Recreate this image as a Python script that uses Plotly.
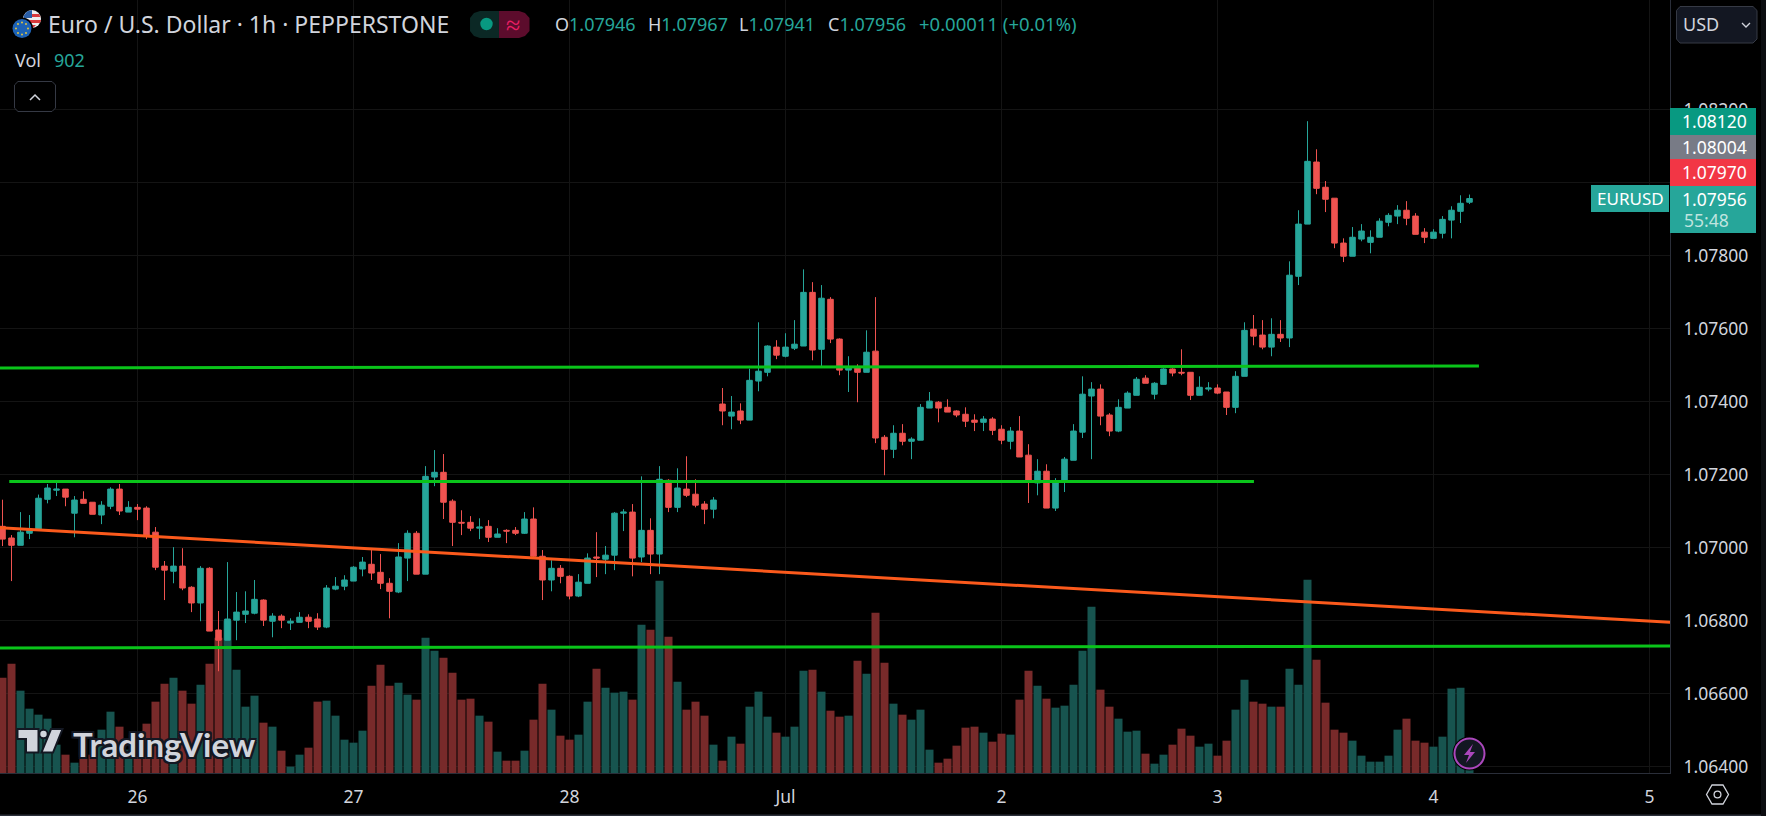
import plotly.graph_objects as go

# prices in points (1 point = 0.00001)
OPEN = [107058,107026,107006,107039,107047,107132,107157,107160,107094,107132,
107124,107089,107113,107160,107097,107110,107108,107042,106949,106935,
106949,106891,106848,106943,106774,106746,106801,106817,106820,106856,
106798,106812,106793,106795,106809,106804,106782,106886,106894,106908,
106941,106954,106932,106902,106878,106971,107039,106927,107193,107206,
107127,107069,107069,107053,107058,107028,107047,107047,107039,107078,
106976,106911,106943,106921,106867,106902,106974,106968,106979,107094,
107097,106974,107047,106982,107184,107110,107160,107146,107119,107105,
107393,107360,107374,107349,107456,107480,107549,107524,107546,107552,
107699,107543,107680,107571,107486,107494,107480,107538,107302,107269,
107313,107291,107294,107382,107398,107384,107374,107365,107349,107343,
107352,107324,107291,107319,107253,107177,107209,107108,107180,107239,
107316,107415,107434,107363,107319,107382,107417,107464,107420,107447,
107489,107480,107480,107417,107434,107437,107426,107384,107469,107598,
107582,107549,107584,107574,107743,107886,108056,107987,107957,107834,
107798,107845,107836,107850,107891,107908,107924,107908,107864,107847,
107861,107897,107921,107946]
HIGH = [107131,107034,107097,107089,107145,107174,107177,107160,107141,107154,
107124,107127,107165,107174,107127,107119,107113,107056,106963,107001,
106998,106894,106949,106946,106826,106960,106878,106880,106911,106858,
106820,106817,106806,106823,106817,106820,106897,106919,106924,106949,
106974,106993,106982,106916,107012,107047,107045,107223,107267,107256,
107132,107102,107086,107080,107075,107053,107050,107056,107097,107110,
106993,106965,106952,106924,106927,106984,107042,107004,107097,107105,
107119,107195,107080,107223,107187,107217,107250,107187,107127,107138,
107437,107415,107395,107490,107617,107554,107568,107587,107623,107762,
107727,107719,107686,107573,107524,107502,107595,107686,107308,107335,
107338,107302,107393,107426,107401,107406,107376,107384,107365,107360,
107357,107335,107330,107360,107283,107242,107228,107190,107248,107338,
107469,107453,107447,107368,107406,107428,107467,107472,107453,107491,
107491,107543,107480,107469,107453,107447,107426,107483,107617,107637,
107623,107628,107623,107784,107924,108168,108091,108004,107957,107847,
107878,107886,107869,107902,107916,107938,107949,107916,107875,107872,
107908,107935,107965,107967]
LOW = [107004,106908,107006,107023,107047,107121,107141,107113,107028,107121,
107091,107064,107105,107089,107097,107075,107023,106938,106856,106902,
106883,106823,106798,106771,106661,106746,106746,106793,106817,106785,
106754,106779,106774,106795,106779,106774,106779,106883,106883,106908,
106921,106911,106886,106806,106875,106908,106927,106927,107168,107078,
107004,107034,107045,107023,107015,107028,107012,107034,107037,106974,
106856,106880,106902,106858,106864,106902,106919,106927,106938,107045,
106921,106960,106927,106927,107097,107097,107138,107110,107064,107080,
107335,107324,107338,107349,107428,107469,107516,107521,107541,107552,
107513,107497,107560,107472,107426,107398,107480,107286,107198,107245,
107280,107242,107294,107382,107343,107371,107357,107330,107319,107319,
107308,107283,107269,107248,107122,107143,107108,107100,107152,107239,
107300,107242,107335,107305,107316,107382,107417,107450,107406,107447,
107469,107472,107404,107417,107428,107420,107363,107368,107469,107554,
107543,107524,107563,107549,107719,107886,107968,107919,107820,107782,
107798,107839,107806,107850,107880,107886,107883,107858,107834,107847,
107847,107847,107889,107941]
CLOSE = [107023,107006,107042,107047,107135,107163,107160,107138,107130,107121,
107091,107116,107160,107100,107110,107105,107031,106946,106938,106949,
106889,106848,106943,106771,106746,106804,106823,106826,106858,106801,
106812,106801,106798,106809,106798,106782,106889,106894,106911,106946,
106960,106930,106902,106880,106974,107039,106927,107195,107206,107124,
107069,107067,107053,107056,107028,107037,107045,107039,107078,106976,
106911,106943,106921,106867,106905,106971,106971,106979,107094,107097,
106971,107047,106982,107187,107110,107163,107143,107116,107105,107130,
107374,107371,107349,107458,107483,107552,107527,107549,107557,107699,
107541,107683,107571,107486,107492,107480,107535,107300,107269,107313,
107291,107297,107384,107401,107382,107371,107363,107346,107343,107352,
107321,107294,107319,107248,107182,107209,107108,107179,107242,107319,
107420,107434,107360,107319,107384,107423,107461,107450,107450,107489,
107478,107478,107417,107439,107437,107423,107384,107469,107595,107579,
107549,107584,107574,107746,107886,108058,107984,107954,107834,107798,
107850,107867,107850,107894,107910,107924,107902,107858,107850,107864,
107899,107924,107943,107956]
VOLUME = [28600,32800,24700,19300,17500,16300,8500,5500,3100,4300,
5500,13000,18400,13900,7000,8500,14800,21400,26800,28600,
24700,20800,26500,32800,40600,45700,31000,19900,23200,15100,
13900,6700,1900,5500,7600,21400,21700,17200,10000,9100,
12700,26200,32500,26200,27100,23500,22000,40600,36700,34600,
30100,22000,22300,17200,15400,6400,3700,3700,6700,16000,
26800,19000,11200,10000,11500,21400,31300,25600,24100,24400,
22000,44500,43000,57700,40900,27400,19000,21400,17200,8500,
3700,10900,8800,19900,24400,16900,12100,10900,13900,30700,
31000,24400,18700,16900,17200,33700,29800,48100,33100,20800,
17500,16000,19000,7000,3100,4300,8200,13600,13900,12100,
9400,11800,11500,22000,30700,26200,22300,19600,20200,26500,
36700,49900,25000,19900,16300,12400,12700,5800,2800,5500,
8500,13300,11200,7900,8800,5200,9700,19000,28000,21400,
20800,19900,19900,31300,26500,58000,34000,21100,13000,12100,
9700,5200,3400,3400,5200,13000,16300,9700,9100,7900,
10900,25300,25600,902]

PRICE_TICKS = [1.064, 1.066, 1.068, 1.070, 1.072, 1.074, 1.076, 1.078, 1.080, 1.082]
DATE_TICK_BARS = [15, 39, 63, 87, 111, 135, 159, 183]
DATE_TICK_LABELS = ["26", "27", "28", "Jul", "2", "3", "4", "5"]

RES_UPPER_X = [-0.28, 164.05]
RES_UPPER_Y = [1.07492, 1.07497]
RES_MID_X = [0.75, 139.05]
RES_MID_Y = [1.07181, 1.07181]
SUPPORT_X = [-0.28, 185.28]
SUPPORT_Y = [1.06725, 1.06730]
TREND_X = [-0.28, 185.28]
TREND_Y = [1.07054, 1.06795]

LAST_LABELS = [("1.08120", "#089981", 108, 135), ("1.08004", "#787b86", 135, 159),
               ("1.07970", "#f23645", 159, 186)]

UP = "#26a69a"; DOWN = "#ef5350"
UP_V = "#17544f"; DOWN_V = "#782a2a"
TXT = "#d1d4dc"
GRID = "#141414"
FONT = "Noto Sans"
PW, PH = 1670, 773

def X(p): return p / PW
def Y(p): return 1 - p / PH

bars = list(range(len(OPEN)))
fig = go.Figure()
fig.add_trace(go.Bar(x=bars, y=VOLUME, yaxis="y", xaxis="x",
    marker=dict(color=[UP_V if c >= o else DOWN_V for o, c in zip(OPEN, CLOSE)], line_width=0),
    hoverinfo="skip", showlegend=False))
fig.add_trace(go.Candlestick(x=bars, yaxis="y2",
    open=[v / 1e5 for v in OPEN], high=[v / 1e5 for v in HIGH],
    low=[v / 1e5 for v in LOW], close=[v / 1e5 for v in CLOSE],
    increasing=dict(line=dict(color=UP, width=1), fillcolor=UP),
    decreasing=dict(line=dict(color=DOWN, width=1), fillcolor=DOWN),
    whiskerwidth=0, hoverinfo="skip", showlegend=False))
for xs, ys, col in [(RES_UPPER_X, RES_UPPER_Y, "#0ac41a"), (RES_MID_X, RES_MID_Y, "#0ac41a"),
                    (SUPPORT_X, SUPPORT_Y, "#0ac41a"), (TREND_X, TREND_Y, "#fb5a1c")]:
    fig.add_trace(go.Scatter(x=xs, y=ys, yaxis="y2", mode="lines",
        line=dict(color=col, width=3), hoverinfo="skip", showlegend=False))

shapes, ann = [], []

def rect(x0, y0, x1, y1, fill, line=None, lw=1):
    shapes.append(dict(type="rect", xref="paper", yref="paper", x0=X(x0), x1=X(x1), y0=Y(y0), y1=Y(y1),
        fillcolor=fill, line=dict(color=line or fill, width=lw if line else 0), layer="above"))

def poly(points, fill=None, line=None, lw=1, close=True):
    d = "M" + " L".join(f"{X(a):.5f},{Y(b):.5f}" for a, b in points) + (" Z" if close else "")
    shapes.append(dict(type="path", xref="paper", yref="paper", path=d,
        fillcolor=fill or "rgba(0,0,0,0)", line=dict(color=line or "rgba(0,0,0,0)", width=lw), layer="above"))

def circ(cx, cy, r, fill, line=None, lw=1):
    shapes.append(dict(type="circle", xref="paper", yref="paper", x0=X(cx - r), x1=X(cx + r),
        y0=Y(cy - r), y1=Y(cy + r), fillcolor=fill,
        line=dict(color=line or fill, width=lw if line else 0), layer="above"))

def text(x, y, s, size=16, color=TXT, anchor="left", family=FONT, **kw):
    ann.append(dict(xref="paper", yref="paper", x=X(x), y=Y(y), text=s, showarrow=False,
        xanchor=anchor, yanchor="middle", align=anchor, xshift=0, yshift=0,
        font=dict(size=size, color=color, family=family, **kw)))

# outer chrome
rect(0, 814.5, 1766, 816, "#2a2e39")
rect(1761, 0, 1766, 816, "#0c0d10")

# flags
circ(32, 19, 9, "#eeeeee")
poly([(25, 14), (39, 14), (40.5, 17), (24, 17)], "#d8393c")
poly([(24, 20), (41, 20), (40, 23), (25, 23)], "#d8393c")
poly([(28, 25), (36, 25), (33, 28), (31, 28)], "#d8393c")
poly([(23.5, 16), (27, 11.5), (32, 10), (32, 18), (24, 18)], "#2a5fa8")
circ(22, 28.5, 11, "#000000")
circ(22, 28.5, 9.5, "#1d62b5")
for dx, dy in [(0, -6), (4, -4.5), (6, 0), (4, 4.5), (0, 6), (-4, 4.5), (-6, 0), (-4, -4.5)]:
    circ(22 + dx, 28.5 + dy, 0.9, "#f5d033")

text(46, 24, "Euro / U.S. Dollar · 1h · PEPPERSTONE", size=23)

# status pill
poly([(499, 11), (480, 11), (474, 13), (470, 18), (470, 31), (474, 36), (480, 38), (499, 38)], "#0b2825")
poly([(499, 11), (519, 11), (525, 13), (529.5, 18), (529.5, 31), (525, 36), (519, 38), (499, 38)], "#5c0c2c")
circ(486.5, 24, 6.2, "#089981")
text(513, 24, "≈", size=26, color="#e91e63", anchor="center")

G = f'<span style="color:{TXT}">%s</span>'
T = f'<span style="color:{UP}">%s</span>'
for px_x, letter, val in [(553, "O", "1.07946"), (646, "H", "1.07967"), (737, "L", "1.07941"), (826, "C", "1.07956")]:
    text(px_x, 24, G % letter + T % val, size=18)
text(917, 24, T % "+0.00011 (+0.01%)", size=18.5)
text(13, 60, G % "Vol", size=18)
text(52, 60, T % "902", size=18)

# collapse button
poly([(18, 81.5), (52, 81.5), (55.5, 85), (55.5, 108), (52, 111.5), (18, 111.5), (14.5, 108), (14.5, 85)],
     "#000000", "#363a45", 1)
poly([(30, 100), (35, 95), (40, 100)], None, TXT, 1.5, close=False)

# USD button
poly([(1680, 6.5), (1753, 6.5), (1757, 10.5), (1757, 39), (1753, 43), (1680, 43), (1676.5, 39), (1676.5, 10.5)],
     "#131722", "#363a45", 1)
text(1681, 24.5, "USD", size=18)
poly([(1742, 23), (1746, 27), (1750, 23)], None, TXT, 1.3, close=False)

# price labels
for s, col, y0, y1 in LAST_LABELS:
    rect(1670, y0, 1756, y1, col)
    text(1714, (y0 + y1) / 2, s, size=17.5, color="#ffffff", anchor="center")
rect(1670, 186, 1756, 233, UP)
text(1714, 199, "1.07956", size=17.5, color="#ffffff", anchor="center")
text(1682, 220, "55:48", size=17.5, color="#bfe4df")
rect(1591, 185, 1669, 212, UP)
text(1630, 198.5, "EURUSD", size=17, color="#ffffff", anchor="center")

# TradingView mark
O_ = "#131722"
poly([(17.5, 729), (38.5, 729), (38.5, 752.5), (26, 752.5), (26, 739), (17.5, 739)], TXT, O_, 2)
circ(43.5, 734, 4.2, TXT, O_, 2)
poly([(51, 729), (62.5, 729), (53, 752.5), (41.5, 752.5)], TXT, O_, 2)
oc = O_
text(71, 743.5, "TradingView", size=33, family="Lato", color=TXT, weight=700,
     shadow=f"-2px 0 0 {oc}, 2px 0 0 {oc}, 0 -2px 0 {oc}, 0 2px 0 {oc}, -2px -2px 0 {oc}, 2px 2px 0 {oc}, 2px -2px 0 {oc}, -2px 2px 0 {oc}")

# lightning badge
circ(1469.5, 753.5, 17, "#000000")
circ(1469.5, 753.5, 15, "#131722", "#ab47bc", 2)
poly([(1473, 744), (1464, 755), (1469, 755), (1466, 763), (1475, 752), (1470, 752)], "#ab47bc")

# settings icon
poly([(1706.5, 794.5), (1712, 785), (1723, 785), (1728.5, 794.5), (1723, 804), (1712, 804)], None, TXT, 1.3)
circ(1717.5, 794.5, 3.4, "rgba(0,0,0,0)", TXT, 1.3)

# pixel placement of the two y scales: bar n centre at 2.5 + 9n; 1.078 at y=255.5, 36500 px per unit
xmin = -2.5 / 9
xmax = (PW - 2.5) / 9
ytop = 1.078 + 255.5 / 36500
ybot = 1.078 - (PH - 255.5) / 36500

fig.update_layout(
    width=1766, height=816, margin=dict(l=0, r=96, t=0, b=43, pad=0),
    paper_bgcolor="#000000", plot_bgcolor="#000000",
    bargap=1 / 9, boxgap=0.12, dragmode=False, showlegend=False,
    font=dict(family=FONT, color=TXT, size=16),
    xaxis=dict(range=[xmin, xmax], tickmode="array", tickvals=DATE_TICK_BARS, ticktext=DATE_TICK_LABELS,
               showgrid=True, gridcolor=GRID, gridwidth=1, zeroline=False,
               showline=True, linecolor="#2a2e39", linewidth=1,
               ticks="outside", ticklen=8, tickcolor="#000000", rangeslider=dict(visible=False),
               tickfont=dict(size=17.5, color=TXT, family=FONT), fixedrange=True),
    yaxis=dict(range=[0, PH * 300], visible=False, showgrid=False, fixedrange=True),
    yaxis2=dict(range=[ybot, ytop], overlaying="y", side="right", anchor="x", tickmode="array",
                tickvals=PRICE_TICKS, tickformat=".5f", showgrid=True, gridcolor=GRID, gridwidth=1,
                zeroline=False, showline=True, linecolor="#2a2e39", linewidth=1,
                ticks="outside", ticklen=9, tickcolor="#000000",
                tickfont=dict(size=17.5, color=TXT, family=FONT), fixedrange=True),
    shapes=shapes, annotations=ann,
)

fig.write_html("out.html", config=dict(displayModeBar=False),
               post_script="document.body.style.margin='0';document.body.style.overflow='hidden';")
